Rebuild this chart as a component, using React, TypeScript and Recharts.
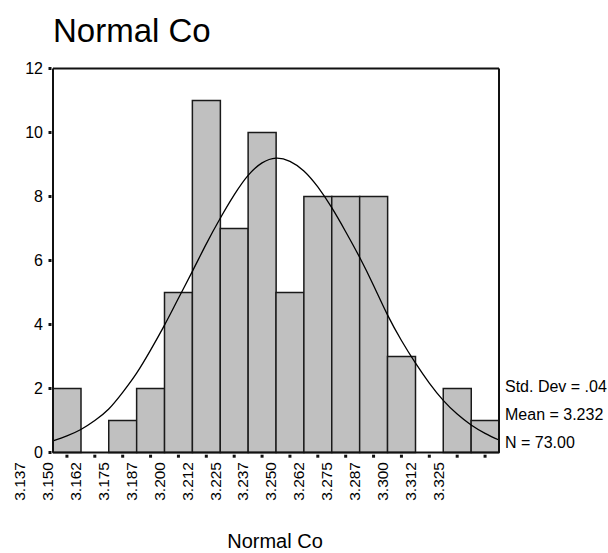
import React from 'react';
import {
  ComposedChart,
  Bar,
  Line,
  XAxis,
  YAxis,
  ReferenceLine,
  Customized,
} from 'recharts';

// Histogram bins: midpoint labels and counts
const binLabels = [
  '3.137', '3.150', '3.162', '3.175', '3.187', '3.200', '3.212', '3.225',
  '3.237', '3.250', '3.262', '3.275', '3.287', '3.300', '3.312', '3.325',
];
const binCounts = [2, 0, 1, 2, 5, 11, 7, 10, 5, 8, 8, 8, 3, 0, 2, 1];

// Fitted normal curve, sampled at bin edges and bin midpoints (position in bin units)
const curvePositions = [
  0, 0.5, 1, 1.5, 2, 2.5, 3, 3.5, 4, 4.5, 5, 5.5, 6, 6.5, 7, 7.5, 8,
  8.5, 9, 9.5, 10, 10.5, 11, 11.5, 12, 12.5, 13, 13.5, 14, 14.5, 15, 15.5, 16,
];
const curveValues = [
  0.36, 0.52, 0.72, 1.0, 1.36, 1.88, 2.48, 3.2, 3.98, 4.82, 5.66, 6.52, 7.32, 8.05, 8.66, 9.05, 9.2,
  9.1, 8.8, 8.3, 7.65, 6.9, 6.1, 5.22, 4.3, 3.5, 2.8, 2.17, 1.63, 1.2, 0.86, 0.6, 0.39,
];

const countTicks = [0, 2, 4, 6, 8, 10, 12];
const statLines = ['Std. Dev = .04', 'Mean = 3.232', 'N = 73.00'];
const chartTitle = 'Normal Co';
const axisTitle = 'Normal Co';

const FONT = '"Liberation Sans", Arial, sans-serif';
const INK = '#111';

const bins = binLabels.map((label, i) => ({ label, count: binCounts[i] }));
const curve = curvePositions.map((pos, i) => ({ pos, density: curveValues[i] }));

const CountTick = (props: any) => {
  const { x, y, payload } = props;
  return (
    <g>
      <rect x={x - 4.5} y={y - 1.5} width={3} height={3} fill={INK} />
      <text
        x={x - 10}
        y={y + 1.5}
        textAnchor="end"
        dominantBaseline="middle"
        fontFamily={FONT}
        fontSize={16}
        fill="#000"
      >
        {payload.value}
      </text>
    </g>
  );
};

const BinTick = (props: any) => {
  const { x, y, payload } = props;
  const tx = x - 41.5;
  const ty = y + 9.5;
  return (
    <g>
      <rect x={x - 1.5} y={y + 2.2} width={3} height={3} fill={INK} />
      <text
        x={tx}
        y={ty}
        transform={`rotate(-90, ${tx}, ${ty})`}
        textAnchor="end"
        fontFamily={FONT}
        fontSize={15.5}
        fill="#000"
      >
        {payload.value}
      </text>
    </g>
  );
};

const Annotations = () => (
  <g fontFamily={FONT} fill="#000">
    <text x={53} y={42} fontSize={33}>
      {chartTitle}
    </text>
    {statLines.map((s, i) => (
      <text key={s} x={505} y={392 + i * 27.8} fontSize={16}>
        {s}
      </text>
    ))}
    <text x={275} y={548} fontSize={20} textAnchor="middle">
      {axisTitle}
    </text>
  </g>
);

export default function App() {
  return (
    <div
      style={{
        position: 'absolute',
        left: 0,
        top: 0,
        width: 608,
        height: 553,
        background: '#fff',
      }}
    >
      <ComposedChart
        width={608}
        height={553}
        data={bins}
        margin={{ top: 68.5, right: 109, bottom: 0, left: 0 }}
        barCategoryGap={0}
        barGap={0}
      >
        <XAxis
          xAxisId="bin"
          dataKey="label"
          type="category"
          height={100.5}
          interval={0}
          tickSize={0}
          tickMargin={0}
          tickLine={false}
          axisLine={{ stroke: INK, strokeWidth: 2 }}
          tick={<BinTick />}
        />
        <XAxis
          xAxisId="pos"
          dataKey="pos"
          type="number"
          domain={[0, 16]}
          hide
        />
        <YAxis
          domain={[0, 12]}
          ticks={countTicks}
          interval={0}
          width={53}
          tickSize={0}
          tickMargin={0}
          tickLine={false}
          axisLine={{ stroke: INK, strokeWidth: 2 }}
          tick={<CountTick />}
        />
        <Bar
          xAxisId="bin"
          dataKey="count"
          fill="#c0c0c0"
          stroke="#1a1a1a"
          strokeWidth={1.5}
          isAnimationActive={false}
        />
        <Line
          xAxisId="pos"
          data={curve}
          dataKey="density"
          type="natural"
          stroke="#000"
          strokeWidth={1.3}
          dot={false}
          activeDot={false}
          isAnimationActive={false}
        />
        <ReferenceLine xAxisId="pos" y={12} stroke={INK} strokeWidth={2} />
        <ReferenceLine xAxisId="pos" x={16} stroke={INK} strokeWidth={2} />
        <Customized component={Annotations} />
      </ComposedChart>
    </div>
  );
}
